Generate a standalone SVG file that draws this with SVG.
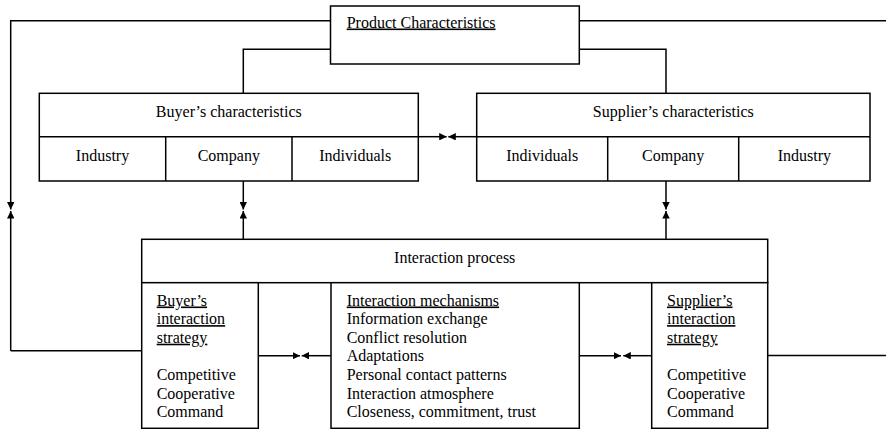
<svg xmlns="http://www.w3.org/2000/svg" width="886" height="429" viewBox="0 0 886 429">
<defs>
<marker id="ah" viewBox="0 0 8 8" refX="8" refY="4" markerWidth="7.5" markerHeight="7.5" markerUnits="userSpaceOnUse" orient="auto">
<path d="M0,0 L8,4 L0,8 Z" fill="#000"/>
</marker>
<style>
rect.box{fill:#fff;stroke:#000;stroke-width:1.5}
line.div{stroke:#000;stroke-width:1.5}
.conn path{fill:none;stroke:#000;stroke-width:1.5}
text{font-family:"Liberation Serif","Times New Roman",serif;font-size:16px;fill:#000}
.c{text-anchor:middle}
.u{text-decoration:underline}
</style>
</defs>
<rect width="886" height="429" fill="#fff"/>

<g class="conn" id="connectors">
<path d="M330.5,20.7 H10.7 V209.5" marker-end="url(#ah)"/>
<path d="M10.7,350.7 V211" marker-end="url(#ah)"/>
<path d="M10.7,350.7 H141.7"/>
<path d="M579.3,20.7 H886"/>
<path d="M330.5,49.3 H243.3 V93.3"/>
<path d="M579.3,49.3 H666 V93.3"/>
<path d="M243.3,181 V209.5" marker-end="url(#ah)"/>
<path d="M243.3,239.3 V211" marker-end="url(#ah)"/>
<path d="M666,181 V209.5" marker-end="url(#ah)"/>
<path d="M666,239.3 V211" marker-end="url(#ah)"/>
<path d="M418.3,136.7 H446.7" marker-end="url(#ah)"/>
<path d="M476.7,136.7 H448.3" marker-end="url(#ah)"/>
<path d="M258.3,355.7 H300" marker-end="url(#ah)"/>
<path d="M331,355.7 H301.7" marker-end="url(#ah)"/>
<path d="M579.3,355.7 H621" marker-end="url(#ah)"/>
<path d="M651.7,355.7 H623.3" marker-end="url(#ah)"/>
<path d="M767.7,355.5 H886"/>
</g>

<g id="product">
<rect class="box" x="330.5" y="6" width="248.8" height="58"/>
<text x="346.7" y="27.5" class="u">Product Characteristics</text>
</g>

<g id="buyer-characteristics">
<rect class="box" x="39.3" y="93.3" width="379" height="87.7"/>
<line class="div" x1="39.3" y1="136.7" x2="418.3" y2="136.7"/>
<line class="div" x1="165.7" y1="136.7" x2="165.7" y2="181"/>
<line class="div" x1="292" y1="136.7" x2="292" y2="181"/>
<text x="228.8" y="117" class="c">Buyer’s characteristics</text>
<text x="102.5" y="161" class="c">Industry</text>
<text x="228.8" y="161" class="c">Company</text>
<text x="355.2" y="161" class="c">Individuals</text>
</g>

<g id="supplier-characteristics">
<rect class="box" x="476.7" y="93.3" width="393.3" height="87.7"/>
<line class="div" x1="476.7" y1="136.7" x2="870" y2="136.7"/>
<line class="div" x1="607.7" y1="136.7" x2="607.7" y2="181"/>
<line class="div" x1="738.7" y1="136.7" x2="738.7" y2="181"/>
<text x="673.3" y="117" class="c">Supplier’s characteristics</text>
<text x="542.2" y="161" class="c">Individuals</text>
<text x="673.2" y="161" class="c">Company</text>
<text x="804.3" y="161" class="c">Industry</text>
</g>

<g id="interaction-process">
<rect class="box" x="141.7" y="239.3" width="626" height="43.4"/>
<text x="454.7" y="262.5" class="c">Interaction process</text>
</g>

<g id="buyer-strategy">
<rect class="box" x="141.7" y="282.7" width="116.6" height="145.6"/>
<text x="156.7" y="305.5" class="u">Buyer’s</text>
<text x="156.7" y="324.1" class="u">interaction</text>
<text x="156.7" y="342.7" class="u">strategy</text>
<text x="156.7" y="379.9">Competitive</text>
<text x="156.7" y="398.5">Cooperative</text>
<text x="156.7" y="417.1">Command</text>
</g>

<g id="interaction-mechanisms">
<rect class="box" x="331" y="282.7" width="248.3" height="145.6"/>
<text x="346.7" y="305.5" class="u">Interaction mechanisms</text>
<text x="346.7" y="324.1">Information exchange</text>
<text x="346.7" y="342.7">Conflict resolution</text>
<text x="346.7" y="361.3">Adaptations</text>
<text x="346.7" y="379.9">Personal contact patterns</text>
<text x="346.7" y="398.5">Interaction atmosphere</text>
<text x="346.7" y="417.1">Closeness, commitment, trust</text>
</g>

<g id="supplier-strategy">
<rect class="box" x="651.7" y="282.7" width="116" height="145.6"/>
<text x="667" y="305.5" class="u">Supplier’s</text>
<text x="667" y="324.1" class="u">interaction</text>
<text x="667" y="342.7" class="u">strategy</text>
<text x="667" y="379.9">Competitive</text>
<text x="667" y="398.5">Cooperative</text>
<text x="667" y="417.1">Command</text>
</g>
</svg>
